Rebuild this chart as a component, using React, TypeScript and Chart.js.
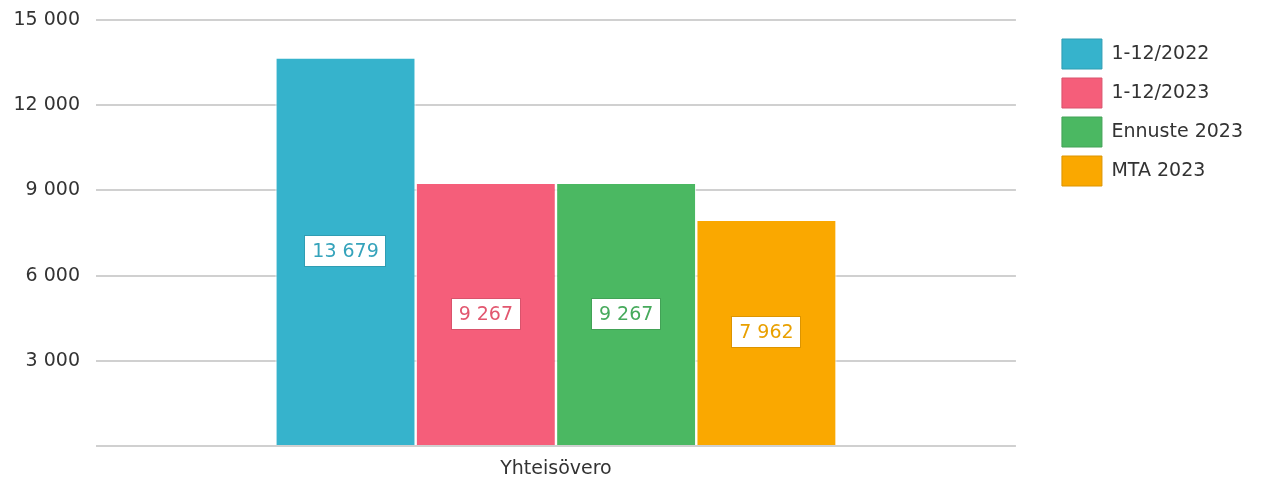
import React, { useEffect, useRef } from "react";
import { Chart, registerables } from "chart.js";

Chart.register(...registerables);

const categories = ["Yhteisövero"];
const seriesNames = ["1-12/2022", "1-12/2023", "Ennuste 2023", "MTA 2023"];
const seriesValues = [[13679], [9267], [9267], [7962]];
const seriesColors = ["#36b3cc", "#f55e7a", "#4bb862", "#faa800"];
const legendBorderColors = ["#2f9db3", "#d9536c", "#42a256", "#dc9400"];
const labelTextColors = ["#35a3bb", "#e2576f", "#47aa5c", "#e9a000"];
const yTicks = [0, 3000, 6000, 9000, 12000, 15000];

const FONT = "'DejaVu Sans', sans-serif";

function fmt(v: number): string {
  return String(Math.round(v)).replace(/\B(?=(\d{3})+(?!\d))/g, " ");
}

const valueLabelPlugin = {
  id: "valueLabels",
  afterDatasetsDraw(chart: any) {
    const ctx = chart.ctx;
    ctx.save();
    ctx.font = `19px ${FONT}`;
    ctx.textAlign = "center";
    ctx.textBaseline = "middle";
    chart.data.datasets.forEach((ds: any, di: number) => {
      const meta = chart.getDatasetMeta(di);
      meta.data.forEach((bar: any, i: number) => {
        const v = ds.data[i];
        const text = fmt(v);
        const w = ctx.measureText(text).width + 16;
        const h = 32;
        const cx = bar.x;
        const cy = (bar.y + bar.base) / 2;
        ctx.fillStyle = "#ffffff";
        ctx.fillRect(Math.round(cx - w / 2), Math.round(cy - h / 2), Math.round(w), h);
        ctx.strokeStyle = legendBorderColors[di];
        ctx.lineWidth = 1;
        ctx.strokeRect(Math.round(cx - w / 2) + 0.5, Math.round(cy - h / 2) + 0.5, Math.round(w) - 1, h - 1);
        ctx.fillStyle = labelTextColors[di];
        ctx.fillText(text, cx, cy + 1);
      });
    });
    ctx.restore();
  },
};

export default function App() {
  const canvasRef = useRef<HTMLCanvasElement | null>(null);

  useEffect(() => {
    const canvas = canvasRef.current;
    if (!canvas) return;
    const chart = new Chart(canvas, {
      type: "bar",
      data: {
        labels: categories,
        datasets: seriesNames.map((name, i) => ({
          label: name,
          data: seriesValues[i],
          backgroundColor: seriesColors[i],
          borderColor: "rgba(255,255,255,0.8)",
          borderWidth: 1.2,
          barPercentage: 1,
          categoryPercentage: 0.61,
        })),
      },
      options: {
        responsive: false,
        animation: false,
        layout: { padding: { left: 9, right: 12, top: 20, bottom: 0 } },
        font: { family: FONT },
        scales: {
          x: {
            grid: { display: false, drawTicks: false },
            border: { display: false },
            afterFit: (scale: any) => {
              scale.height = 37;
            },
            ticks: { color: "#333333", font: { family: FONT, size: 19, lineHeight: 0.2 }, padding: 21 },
          },
          y: {
            min: 0,
            max: 15000,
            afterBuildTicks: (scale: any) => {
              scale.ticks = yTicks.map((v) => ({ value: v }));
            },
            afterFit: (scale: any) => {
              scale.width = 87;
            },
            grid: { color: "#d0d0d0", lineWidth: 2, drawTicks: false },
            border: { display: false },
            ticks: {
              color: "#333333",
              font: { family: FONT, size: 19, lineHeight: 0.4 },
              padding: 16,
              callback: (v: any) => (Number(v) === 0 ? "" : fmt(Number(v))),
            },
          },
          spacer: {
            type: "linear",
            position: "right",
            display: true,
            grid: { display: false },
            border: { display: false },
            ticks: { display: false },
            afterFit: (scale: any) => {
              scale.width = 37;
            },
          },
        },
        plugins: {
          tooltip: { enabled: false },
          legend: {
            position: "right",
            align: "start",
            title: { display: true, text: "", font: { size: 10, lineHeight: 1 }, padding: 0 },
            labels: {
              boxWidth: 40,
              boxHeight: 30,
              padding: 9,
              color: "#333333",
              font: { family: FONT, size: 19 },
              generateLabels: (ch: any) =>
                ch.data.datasets.map((ds: any, i: number) => ({
                  text: ds.label,
                  fillStyle: seriesColors[i],
                  strokeStyle: legendBorderColors[i],
                  lineWidth: 1,
                  hidden: false,
                  datasetIndex: i,
                  fontColor: "#333333",
                })),
            },
          },
        },
      } as any,
      plugins: [valueLabelPlugin],
    });
    return () => chart.destroy();
  }, []);

  return (
    <div style={{ position: "fixed", left: 0, top: 0, width: 1265, height: 483, background: "#fff" }}>
      <canvas ref={canvasRef} width={1265} height={483} />
    </div>
  );
}
